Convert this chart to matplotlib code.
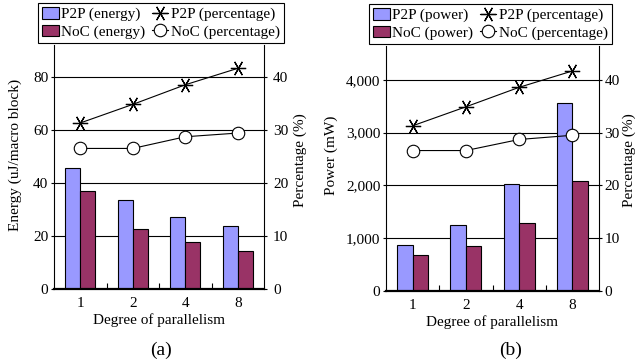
import matplotlib
matplotlib.use("Agg")
import matplotlib.pyplot as plt
from matplotlib.ticker import FuncFormatter, FixedLocator
import numpy as np

plt.rcParams['font.family'] = ['Liberation Serif', 'DejaVu Serif']
plt.rcParams['font.size'] = 11

categories = ["1", "2", "4", "8"]
energy_p2p = [45.7, 33.5, 27.3, 23.9]
energy_noc = [36.9, 22.6, 17.6, 14.2]
power_p2p = [861, 1241, 2019, 3556]
power_noc = [677, 842, 1290, 2090]
pct_p2p_a = [31.3, 34.8, 38.5, 41.6]
pct_noc_a = [26.5, 26.5, 28.7, 29.4]
pct_p2p_b = [31.3, 34.9, 38.6, 41.7]
pct_noc_b = [26.6, 26.6, 28.7, 29.5]

C_P2P = '#9999FF'
C_NOC = '#993366'
STAR = (6, 2, 90)

fig = plt.figure(figsize=(6.36, 3.64), dpi=100)
W, H = 636, 364

def make_panel(rect, p2p, noc, pp, pn, ymax, yticks, fmt, ylabel, leglabels, legcenter,
               ylab_x, ylab2_x, sub, sub_x, rpad):
    ax = fig.add_axes(rect)
    x = np.arange(len(categories))
    bw = 0.29
    ax.bar(x - bw/2, p2p, bw, color=C_P2P, edgecolor='black', linewidth=0.8, zorder=2, label=leglabels[0])
    ax.bar(x + bw/2, noc, bw, color=C_NOC, edgecolor='black', linewidth=0.8, zorder=2, label=leglabels[1])
    ax.set_xlim(-0.5, len(categories) - 0.5)
    ax.set_ylim(0, ymax)
    ax.set_yticks(yticks)
    ax.yaxis.set_major_formatter(FuncFormatter(fmt))
    ax.set_xticks(x)
    ax.set_xticklabels(categories)
    ax.xaxis.set_minor_locator(FixedLocator([0.5, 1.5, 2.5]))
    ax.tick_params(axis='x', which='major', length=0, pad=6)
    ax.tick_params(axis='x', which='minor', length=4, direction='in', width=0.8)
    ax.tick_params(axis='y', length=2.5, direction='out', width=0.8, pad=1.5)
    for yv in yticks[1:]:
        ax.axhline(yv, color='black', linewidth=0.8, zorder=1)
    for s in ['top', 'right']:
        ax.spines[s].set_visible(False)
    ax.spines['left'].set_linewidth(0.8)
    ax.spines['bottom'].set_linewidth(1.6)
    ax.set_xlabel('Degree of parallelism', labelpad=2)

    ax2 = ax.twinx()
    ax2.set_ylim(0, ymax / yticks[1] * 10)
    ax2.set_yticks([0, 10, 20, 30, 40])
    l1, = ax2.plot(x, pp, color='black', linewidth=0.8, marker=STAR, markersize=11,
                   markeredgewidth=0.9, markerfacecolor='none', markeredgecolor='black', label=leglabels[2])
    l2, = ax2.plot(x, pn, color='black', linewidth=0.8, marker='o', markersize=9,
                   markerfacecolor='white', markeredgecolor='black', markeredgewidth=0.8, label=leglabels[3])
    for s in ['top', 'left', 'bottom']:
        ax2.spines[s].set_visible(False)
    ax2.spines['right'].set_linewidth(0.8)
    ax2.tick_params(axis='y', length=2.5, direction='out', width=0.8, pad=rpad)

    h1, lab1 = ax.get_legend_handles_labels()
    handles = h1 + [l1, l2]
    labels = lab1 + [leglabels[2], leglabels[3]]
    leg = fig.legend(handles, labels, loc='center', bbox_to_anchor=(legcenter[0] / W, 1 - legcenter[1] / H),
                     ncol=2, frameon=True, fancybox=False, shadow=False, edgecolor='black', framealpha=1,
                     borderpad=0.3, labelspacing=0.2, handlelength=1.1, handletextpad=0.15,
                     columnspacing=0.4, borderaxespad=0, handleheight=0.8)
    leg.get_frame().set_linewidth(0.8)

    fig.text(ylab_x / W, 1 - 155 / H, ylabel, rotation=90, ha='center', va='center')
    fig.text(ylab2_x / W, 1 - 160 / H, 'Percentage (%)', rotation=90, ha='center', va='center')
    fig.text(sub_x / W, 1 - 350 / H, sub, ha='center', va='center', fontsize=14)
    return ax, ax2

make_panel([54 / W, 75 / H, 210 / W, 244 / H], energy_p2p, energy_noc, pct_p2p_a, pct_noc_a,
           92, [0, 20, 40, 60, 80], lambda v, p: f'{int(v)}', 'Energy (uJ/macro block)',
           ['P2P (energy)', 'NoC (energy)', 'P2P (percentage)', 'NoC (percentage)'],
           (161, 23), 15, 300, '(a)', 161, 4)

make_panel([386 / W, 73.3 / H, 213 / W, 245 / H], power_p2p, power_noc, pct_p2p_b, pct_noc_b,
           4650, [0, 1000, 2000, 3000, 4000], lambda v, p: f'{int(v):,}', 'Power (mW)',
           ['P2P (power)', 'NoC (power)', 'P2P (percentage)', 'NoC (percentage)'],
           (490.5, 24), 331, 629, '(b)', 511, 1.5)

fig.savefig('out.png', dpi=100)
